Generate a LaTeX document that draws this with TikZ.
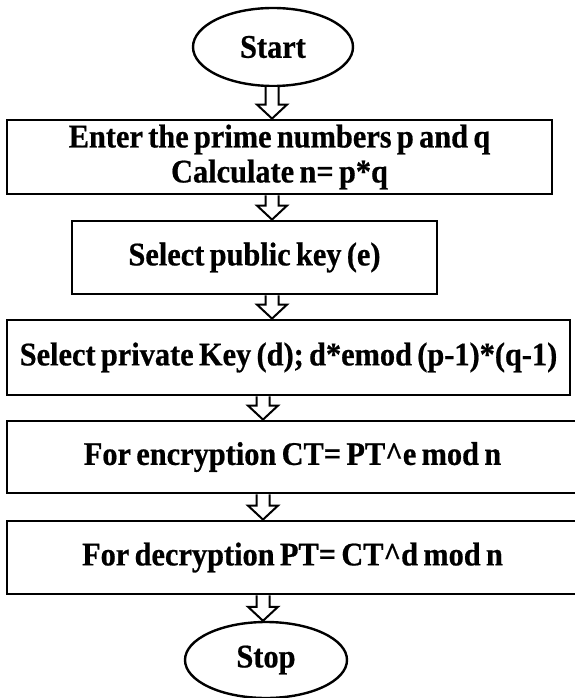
\documentclass[tikz,border=0pt]{standalone}
\usepackage{fontspec}
\newfontfamily\flowfont[FakeStretch=0.92, WordSpace=0.7, BoldFeatures={FakeBold=0.6}]{Liberation Serif}
\usetikzlibrary{shapes.geometric,calc}

\tikzset{
  terminal/.style={ellipse, draw, line width=2.4pt, inner sep=0pt,
    minimum width=160pt, minimum height=78pt,
    font=\flowfont\bfseries\fontsize{33}{35}\selectfont},
  process/.style={rectangle, draw, line width=2.8pt, inner sep=0pt, align=center,
    font=\flowfont\bfseries\fontsize{33}{35}\selectfont},
  blockarrow/.style={draw, line width=2pt, fill=white, line join=miter}
}

% hollow block arrow from the bottom of #1 to the top of #2, on the vertical line through #3
\newcommand{\flowarrow}[3]{%
  \draw[blockarrow] let \p1=(#1.south -| #3), \p2=(#2.north -| #3) in
    (\x1-6.5pt,\y1) -- (\x1-6.5pt,\y2+14pt) -- (\x1-15pt,\y2+14pt) -- (\x1,\y2)
    -- (\x1+15pt,\y2+14pt) -- (\x1+6.5pt,\y2+14pt) -- (\x1+6.5pt,\y1);
}

\begin{document}
\begin{tikzpicture}[x=1pt,y=-1pt]
  \useasboundingbox[fill=white] (0,0) rectangle (574,698);

  \coordinate (axisU) at (272,0);
  \coordinate (axisL) at (263,0);

  \node[terminal] (start) at (273,47) {Start};
  \node[process, minimum width=545pt, minimum height=74pt] (primes) at (279.5,157)
    {Enter the prime numbers p and q\\Calculate n= p*q};
  \node[process, minimum width=365pt, minimum height=73pt] (pubkey) at (254.5,257.5)
    {Select public key (e)};
  \node[process, minimum width=563pt, minimum height=75pt] (privkey) at (288.5,357.5)
    {Select private Key (d); d*emod (p-1)*(q-1)};
  \node[process, minimum width=571pt, minimum height=72pt] (encrypt) at (292.5,457)
    {For encryption CT= PT\textasciicircum e mod n};
  \node[process, minimum width=571pt, minimum height=73pt] (decrypt) at (292.5,557.5)
    {For decryption PT= CT\textasciicircum d mod n};
  \node[terminal, minimum width=162pt, minimum height=76pt] (stop) at (266,660) {Stop};

  \flowarrow{start}{primes}{axisU}
  \flowarrow{primes}{pubkey}{axisU}
  \flowarrow{pubkey}{privkey}{axisU}
  \flowarrow{privkey}{encrypt}{axisL}
  \flowarrow{encrypt}{decrypt}{axisL}
  \flowarrow{decrypt}{stop}{axisL}
\end{tikzpicture}
\end{document}
